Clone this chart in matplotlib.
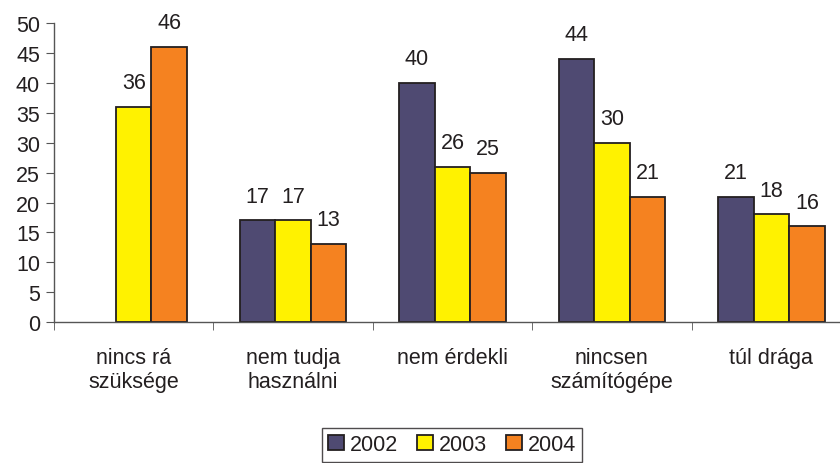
import matplotlib.pyplot as plt
import numpy as np

categories = ["nincs rá\nszüksége", "nem tudja\nhasználni", "nem érdekli",
              "nincsen\nszámítógépe", "túl drága"]
years = ["2002", "2003", "2004"]
v2002 = [None, 17, 40, 44, 21]
v2003 = [36, 17, 26, 30, 18]
v2004 = [46, 13, 25, 21, 16]
colors = ["#4F4A72", "#FFF200", "#F58220"]

plt.rcParams['font.family'] = ['Liberation Sans', 'DejaVu Sans']
txt = "#231F20"
fs = 15.5

fig = plt.figure(figsize=(8.4, 4.64), dpi=100)
ax = fig.add_axes([54 / 840, (464 - 323) / 464, (840 - 54) / 840, (323 - 24.3) / 464])

x = np.arange(len(categories))
w = 0.223
series = [v2002, v2003, v2004]
for i, (vals, c, yr) in enumerate(zip(series, colors, years)):
    xs = [xx + (i - 1) * w for xx, v in zip(x, vals) if v is not None]
    hs = [v for v in vals if v is not None]
    bars = ax.bar(xs, hs, w, color=c, edgecolor="#231F20", linewidth=1.3, label=yr)
    for b, v in zip(bars, hs):
        ax.annotate(str(v), (b.get_x() + b.get_width() / 2, v), xytext=(0, 10),
                    textcoords="offset points", ha="center", va="bottom",
                    fontsize=fs, color=txt)

ax.set_ylim(0, 50)
ax.set_yticks(range(0, 51, 5))
ax.set_xlim(-0.5, 4.5 - 11 / 159.5)
ax.set_xticks(x)
ax.set_xticklabels(categories, fontsize=fs, color=txt, linespacing=1.2)
ax.set_xticks(np.arange(-0.5, 4.0, 1.0), minor=True)
ax.tick_params(axis="x", which="major", length=0, pad=18)
ax.tick_params(axis="x", which="minor", length=6, color="#555555")
ax.tick_params(axis="y", length=6, color="#555555", labelsize=fs, labelcolor=txt, pad=4)
for s in ["top", "right"]:
    ax.spines[s].set_visible(False)
for s in ["left", "bottom"]:
    ax.spines[s].set_color("#555555")
    ax.spines[s].set_linewidth(1.0)

leg = fig.legend(loc="lower center", bbox_to_anchor=(452 / 840, -0.02), ncol=3,
                 fontsize=fs, frameon=True, fancybox=False, edgecolor="#231F20",
                 handlelength=0.75, handleheight=0.75, handletextpad=0.25,
                 columnspacing=0.9, borderpad=0.3)
leg.get_frame().set_linewidth(1.0)
for t in leg.get_texts():
    t.set_color(txt)

fig.savefig("out.png", dpi=100)
